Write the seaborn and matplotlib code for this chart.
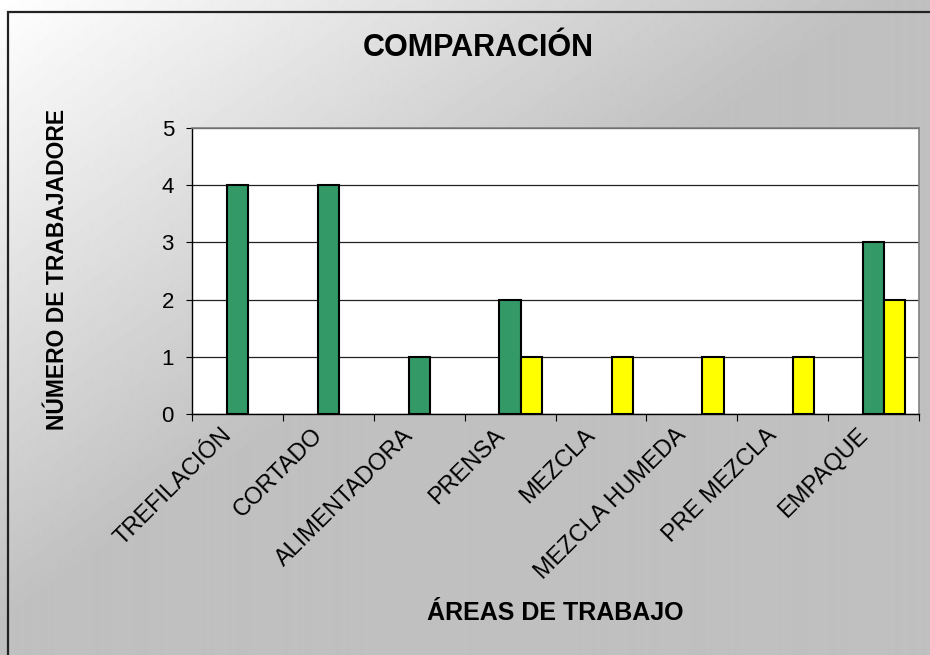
import numpy as np
import pandas as pd
import matplotlib
matplotlib.use("Agg")
import matplotlib.pyplot as plt
import matplotlib.transforms as mtransforms
from matplotlib.patches import Rectangle
import seaborn as sns

# ---------------------------------
# Data
# ---------------------------------

areas = ["TREFILACIÓN", "CORTADO", "ALIMENTADORA", "PRENSA",
         "MEZCLA", "MEZCLA HUMEDA", "PRE MEZCLA", "EMPAQUE"]
series_names = ["Serie1", "Serie2", "Serie3"]
serie2 = [4, 4, 1, 2, 0, 0, 0, 3]
serie3 = [0, 0, 0, 1, 1, 1, 1, 2]
y_ticks = [0, 1, 2, 3, 4, 5]

colors = ["#FFFFFF", "#339966", "#FFFF00"]

df = pd.DataFrame({
    "area": areas * 2,
    "serie": [series_names[1]] * len(areas) + [series_names[2]] * len(areas),
    "valor": serie2 + serie3,
})
# zero values are not drawn
df = df[df["valor"] > 0]

# ---------------------------------
# Style
# ---------------------------------

sns.set_style("white")
plt.rcParams["font.family"] = ["Liberation Sans", "DejaVu Sans"]
plt.rcParams["text.color"] = "black"
plt.rcParams["xtick.color"] = "black"
plt.rcParams["ytick.color"] = "black"

W, H = 930, 655
fig = plt.figure(figsize=(W / 100, H / 100), dpi=100)

# background gradient (white top-left -> gray)
bg = fig.add_axes([0, 0, 1, 1], zorder=-10)
yy, xx = np.mgrid[0:H, 0:W]
t = np.clip(xx / 880 + yy / 620, 0, 1)
shade = 1.0 - t * (1.0 - 192 / 255)
bg.imshow(shade, cmap="gray", vmin=0, vmax=1, aspect="auto",
          extent=[0, 1, 0, 1], origin="upper")
bg.set_axis_off()

# outer chart border
fig.patches.append(Rectangle((8 / W, -0.1), 1.2, 1 - 12 / H + 0.1,
                             transform=fig.transFigure, fill=False,
                             edgecolor="#222222", linewidth=1.6))

# ---------------------------------
# Bars
# ---------------------------------

ax = fig.add_axes([192 / W, 1 - 414 / H, (919 - 192) / W, (414 - 128) / H])
ax.set_facecolor("white")

sns.barplot(
    data=df, x="area", y="valor", hue="serie",
    order=areas, hue_order=series_names, palette=colors,
    saturation=1, width=0.7, edgecolor="black", linewidth=1.5,
    legend=False, ax=ax, zorder=3,
)

ax.set_ylim(0, 5)
ax.set_xlim(-0.5, len(areas) - 0.5)
ax.set_yticks(y_ticks)
ax.yaxis.grid(True, color="#222222", linewidth=0.9, zorder=0)
ax.xaxis.grid(False)

for side in ["top", "right"]:
    ax.spines[side].set_color("#808080")
    ax.spines[side].set_linewidth(1.2)
for side in ["left", "bottom"]:
    ax.spines[side].set_color("black")
    ax.spines[side].set_linewidth(1.0)

ax.tick_params(axis="y", direction="out", length=4, width=0.8,
               color="black", labelsize=16, pad=9, left=True)
ax.set_xticks(np.arange(-0.5, len(areas)), minor=True)
ax.tick_params(axis="x", which="minor", direction="out", length=5,
               width=0.8, color="black", bottom=True)
ax.tick_params(axis="x", which="major", length=0, labelsize=17, pad=13)

offset = mtransforms.ScaledTranslation(-9 / 100, 0, fig.dpi_scale_trans)
for lbl in ax.get_xticklabels():
    lbl.set_rotation(45)
    lbl.set_ha("right")
    lbl.set_va("center")
    lbl.set_rotation_mode("anchor")
    lbl.set_transform(lbl.get_transform() + offset)

ax.set_xlabel("")
ax.set_ylabel("")

# ---------------------------------
# Title and Labels
# ---------------------------------

fig.text(478 / W, 1 - 48 / H, "COMPARACIÓN", ha="center", va="center",
         fontsize=22, fontweight="bold")
fig.text(58 / W, 1 - 430 / H, "NÚMERO DE TRABAJADORE", rotation=90,
         ha="center", va="bottom", fontsize=16.5, fontweight="bold")
fig.text(555 / W, 1 - 613 / H, "ÁREAS DE TRABAJO", ha="center",
         va="center", fontsize=18, fontweight="bold")

fig.savefig("out.png", dpi=100)
